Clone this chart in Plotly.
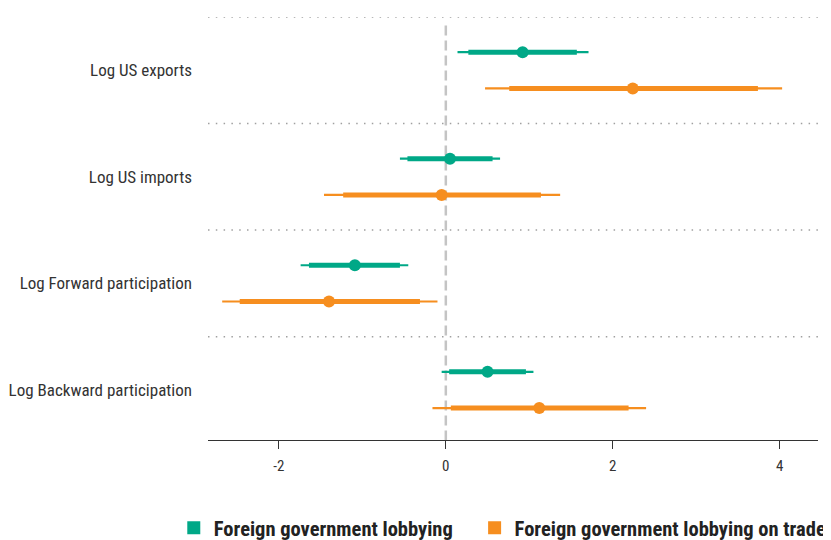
import plotly.graph_objects as go

categories = ["Log US exports", "Log US imports", "Log Forward participation", "Log Backward participation"]
series_names = ["Foreign government lobbying", "Foreign government lobbying on trade"]

# Point estimates
est_lobby = [0.92, 0.05, -1.09, 0.50]
est_trade = [2.24, -0.05, -1.40, 1.12]
# Wide intervals (thin lines)
lo_wide_lobby = [0.14, -0.55, -1.74, -0.05]
hi_wide_lobby = [1.71, 0.65, -0.45, 1.05]
lo_wide_trade = [0.47, -1.46, -2.68, -0.16]
hi_wide_trade = [4.03, 1.37, -0.10, 2.40]
# Narrow intervals (thick lines)
lo_nar_lobby = [0.27, -0.46, -1.64, 0.04]
hi_nar_lobby = [1.57, 0.56, -0.55, 0.96]
lo_nar_trade = [0.76, -1.23, -2.47, 0.06]
hi_nar_trade = [3.74, 1.14, -0.31, 2.19]

x_ticks = [-2, 0, 2, 4]

GREEN = "#00a887"
ORANGE = "#f68e1f"
FONT = "Liberation Sans Narrow, Roboto Condensed, Arial Narrow, sans-serif"

offset = 0.17
fig = go.Figure()

def seg(lo, hi, pos):
    xs, ys = [], []
    for a, b, p in zip(lo, hi, pos):
        xs += [a, b, None]
        ys += [p, p, None]
    return xs, ys

specs = [
    (series_names[0], GREEN, -offset, est_lobby, lo_wide_lobby, hi_wide_lobby, lo_nar_lobby, hi_nar_lobby, "legend"),
    (series_names[1], ORANGE, offset, est_trade, lo_wide_trade, hi_wide_trade, lo_nar_trade, hi_nar_trade, "legend2"),
]

for name, color, off, est, lw, hw, ln, hn, leg in specs:
    pos = [i + off for i in range(len(categories))]
    xs, ys = seg(lw, hw, pos)
    fig.add_trace(go.Scatter(x=xs, y=ys, mode="lines", line=dict(color=color, width=2.2),
                             showlegend=False, hoverinfo="skip"))
    xs, ys = seg(ln, hn, pos)
    fig.add_trace(go.Scatter(x=xs, y=ys, mode="lines", line=dict(color=color, width=5),
                             showlegend=False, hoverinfo="skip"))
    fig.add_trace(go.Scatter(x=est, y=pos, mode="markers", marker=dict(color=color, size=12),
                             showlegend=False))
    fig.add_trace(go.Scatter(x=[None], y=[None], mode="markers", name=name, legend=leg,
                             marker=dict(color=color, size=13, symbol="square")))

# separators
for k in range(len(categories)):
    fig.add_shape(type="line", xref="paper", x0=0, x1=1, yref="y", y0=k - 0.5, y1=k - 0.5,
                  line=dict(color="#a0a0a0", width=1.5, dash="1.5px,6.3px"), layer="below")

fig.add_shape(type="line", xref="x", x0=0, x1=0, yref="y", y0=-0.42, y1=3.47,
              line=dict(color="#c4c4c4", width=2.5, dash="10px,5px"), layer="below")

legend_font = dict(family=FONT, size=20.5, color="#222222", weight="bold")

fig.update_layout(
    width=831, height=540,
    margin=dict(l=200, r=21, t=9, b=108, autoexpand=False),
    paper_bgcolor="white", plot_bgcolor="white",
    font=dict(family=FONT, size=17, color="#333333"),
    showlegend=True,
    legend=dict(orientation="h", xref="container", x=0.1995, xanchor="left",
                yref="container", y=0.037, yanchor="middle", font=legend_font, itemwidth=30),
    legend2=dict(orientation="h", xref="container", x=0.5615, xanchor="left",
                 yref="container", y=0.037, yanchor="middle", font=legend_font, itemwidth=30),
    xaxis=dict(range=[-2.85, 4.46], tickvals=x_ticks, ticktext=[str(v) for v in x_ticks],
               showgrid=False, zeroline=False, showline=True, linecolor="#333333", linewidth=1,
               ticks="outside", ticklen=8, tickcolor="#333333", ticklabelstandoff=4,
               automargin=False, tickfont=dict(size=15, color="#333333")),
    yaxis=dict(range=[3.47, -0.5], tickvals=list(range(len(categories))), ticktext=categories,
               showgrid=False, zeroline=False, showline=False, ticks="", ticklabelstandoff=15,
               automargin=False, tickfont=dict(size=17, color="#333333")),
)

fig.write_html("out.html")
